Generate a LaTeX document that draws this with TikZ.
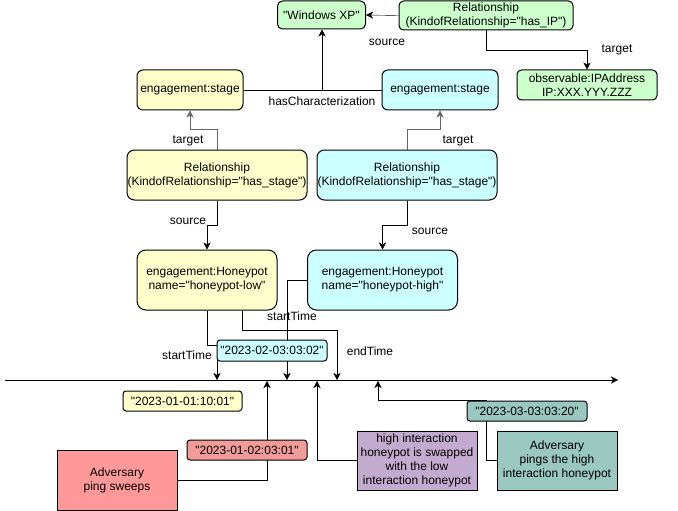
\documentclass[tikz,border=0pt]{standalone}
\usepackage{fontspec}
\setmainfont{Liberation Sans}[Ligatures=TeXOff]
\usetikzlibrary{arrows.meta,backgrounds}
\definecolor{cyel}{HTML}{FFFFCC}
\definecolor{ccyan}{HTML}{CCFFFF}
\definecolor{cgreen}{HTML}{CCFFCC}
\definecolor{cred}{HTML}{FF9999}
\definecolor{cred2}{HTML}{F19C99}
\definecolor{cpurple}{HTML}{C3ABD0}
\definecolor{cteal}{HTML}{9AC7BF}
\definecolor{cgray}{HTML}{666666}
\begin{document}
\begin{tikzpicture}[x=1pt,y=-1pt,line width=1pt,
  box/.style={draw=black,align=center,inner sep=0pt,font=\fontsize{12}{14}\selectfont},
  lbl/.style={inner sep=0pt,font=\fontsize{12}{14}\selectfont},
  arr/.style={-{Stealth[length=7pt,width=7pt,inset=2pt]}},
  tgt/.style={draw=cgray}]
\useasboundingbox (0,0) rectangle (678,511);
% nodes
\node[box,fill=cgreen,rounded corners=5pt,minimum width=88,minimum height=28] (winxp) at (321.5,15) {"Windows XP"};
\node[box,fill=cgreen,rounded corners=4.5pt,minimum width=174,minimum height=29] (relIP) at (486,15.5) {Relationship\\(KindofRelationship="has\_IP")};
\node[box,fill=cgreen,rounded corners=4.5pt,minimum width=140,minimum height=30] (obs) at (587,85) {observable:IPAddress\\IP:XXX.YYY.ZZZ};
\node[box,fill=cyel,rounded corners=6pt,minimum width=106,minimum height=40] (stageY) at (190,90) {engagement:stage};
\node[box,fill=ccyan,rounded corners=6pt,minimum width=116,minimum height=40] (stageC) at (440,90) {engagement:stage};
\node[box,fill=cyel,rounded corners=7.5pt,minimum width=180,minimum height=50] (relY) at (217,175) {Relationship\\(KindofRelationship="has\_stage")};
\node[box,fill=ccyan,rounded corners=7.5pt,minimum width=180,minimum height=50] (relC) at (407,175) {Relationship\\(KindofRelationship="has\_stage")};
\node[box,fill=cyel,rounded corners=9pt,minimum width=140,minimum height=60] (hpY) at (207,280) {engagement:Honeypot\\name="honeypot-low"};
\node[box,fill=ccyan,rounded corners=9pt,minimum width=150,minimum height=60] (hpC) at (382.5,280) {engagement:Honeypot\\name="honeypot-high"};
\node[box,fill=ccyan,rounded corners=3pt,minimum width=110,minimum height=21] (dateC) at (272,350.5) {"2023-02-03:03:02"};
\node[box,fill=cyel,rounded corners=3pt,minimum width=119,minimum height=20] (dateY) at (182.5,401) {"2023-01-01:10:01"};
\node[box,fill=cred2,rounded corners=3pt,minimum width=120,minimum height=20] (dateR) at (247,450) {"2023-01-02:03:01"};
\node[box,fill=cred,minimum width=120,minimum height=60] (ping) at (117,480) {Adversary\\ping sweeps};
\node[box,fill=cpurple,minimum width=120,minimum height=59] (swap) at (417,460.5) {high interaction\\honeypot is swapped\\with the low\\interaction honeypot};
\node[box,fill=cteal,rounded corners=3pt,minimum width=120,minimum height=20] (dateT) at (527,411) {"2023-03-03:03:20"};
\node[box,fill=cteal,minimum width=120,minimum height=59] (pings) at (557,460.5) {Adversary\\pings the high\\interaction honeypot};
% timeline coordinates
\coordinate (t0) at (5,380);
\coordinate (t1) at (618,380);
\coordinate (ta) at (217,380);
\coordinate (tb) at (287,380);
\coordinate (tc) at (337,380);
\coordinate (td) at (267,381);
\coordinate (te) at (317,381);
\coordinate (tf) at (378,381);
\coordinate (hc) at (322,90);
% labels
\node[lbl] (l1) at (387,42) {source};
\node[lbl] (l2) at (617,50) {target};
\node[lbl] (l3) at (322,101) {hasCharacterization};
\node[lbl] (l4) at (188,141) {target};
\node[lbl] (l5) at (458,141) {target};
\node[lbl] (l6) at (188,221) {source};
\node[lbl] (l7) at (430,231) {source};
\node[lbl] (l8) at (187,355) {startTime};
\node[lbl] (l9) at (370,351) {endTime};
\node[lbl] (l10) at (292,316) {startTime};
% edges
\begin{scope}[on background layer]
\draw[arr] (t0) -- (t1);
\draw[arr] (relIP.west) -- (winxp.east);
\draw[arr] (relIP.south) -- ++(0,20) -| (obs.north);
\draw (stageY.east) -- (stageC.west);
\draw[arr] (hc) -- (hc |- winxp.south);
\draw[arr,tgt] (relY.north) -- ++(0,-20) -| (stageY.south);
\draw[arr,tgt] (relC.north) -- ++(0,-20) -| (stageC.south);
\draw[arr] (relY.south) -- ++(0,25) -| (hpY.north);
\draw[arr] (relC.south) -- ++(0,25) -| (hpC.north);
\draw[arr] (hpY.south) -- ++(0,35) -| (ta);
\draw[arr] ([xshift=35pt]hpY.south) -- ++(0,20) -| (tc);
\draw[arr] (hpC.west) -| (tb);
\draw[arr] (ping.east) -| (td);
\draw[arr] (swap.west) -| (te);
\draw[arr] (pings.west) -- ++(-10,0) -- ++(0,-60) -| (tf);
\end{scope}
\end{tikzpicture}
\end{document}
